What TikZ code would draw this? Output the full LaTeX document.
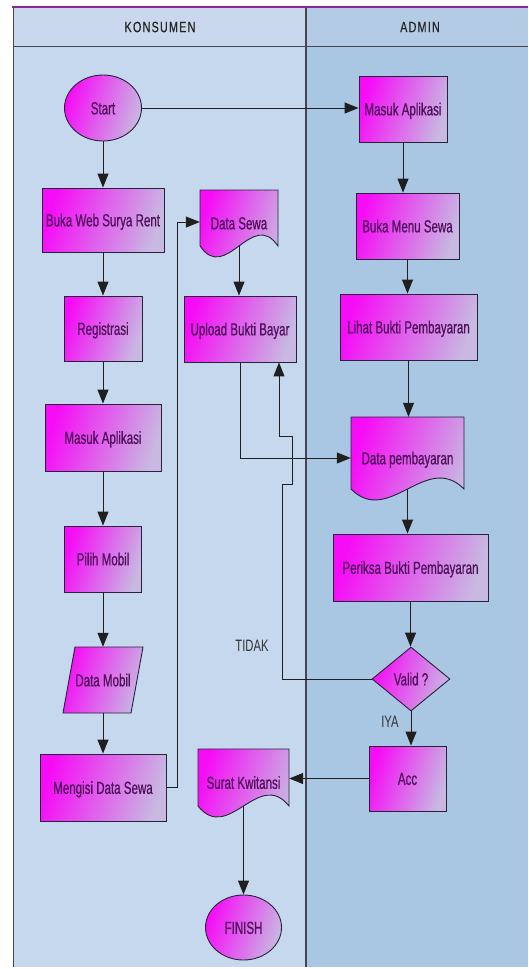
\documentclass[tikz,border=0pt]{standalone}
\usepackage{fontspec}
\usetikzlibrary{shapes.geometric,arrows.meta,calc}
\newfontfamily\narrowfont[FakeStretch=0.66,FakeBold=0.6]{Liberation Sans}
\newfontfamily\lblfont[FakeStretch=0.68]{Liberation Sans}
\newfontfamily\headfont[FakeStretch=0.72,LetterSpace=8,FakeBold=0.4]{Liberation Sans}
\definecolor{mag}{RGB}{246,12,246}
\definecolor{lav}{RGB}{200,184,226}
\definecolor{txt}{RGB}{80,16,92}
\definecolor{edge}{RGB}{38,34,60}
\definecolor{lanek}{RGB}{198,216,237}
\definecolor{lanea}{RGB}{169,199,227}
\definecolor{headk}{RGB}{202,216,238}
\definecolor{heada}{RGB}{180,203,230}
\definecolor{lanel}{RGB}{70,70,80}
\definecolor{topl}{RGB}{140,40,140}
\tikzset{
  fillshape/.style={draw=edge, line width=0.9pt, left color=mag, right color=lav, shading angle=72},
  box/.style={fillshape, rectangle, text=txt, font=\narrowfont\fontsize{17.5}{20}\selectfont,
    inner sep=0pt, text height=12.7pt, text depth=0pt, align=center},
  term/.style={box, ellipse},
  dia/.style={box, diamond},
  plaintext/.style={text=txt, font=\narrowfont\fontsize{17.5}{20}\selectfont,
    inner sep=0pt, text height=12.7pt, text depth=0pt},
  doctext/.style={plaintext, text height=22.7pt},
  headtext/.style={text=black!85, font=\headfont\fontsize{15}{17}\selectfont, inner sep=0pt},
  lbl/.style={text=black!80, font=\lblfont\fontsize{16.5}{18}\selectfont, inner sep=0pt},
  arr/.style={draw=black!88, line width=1pt, -{Triangle[length=14pt,width=11pt]}},
}
\newcommand\docnode[6]{%
  \path[fillshape] (#2,#3) -- (#4,#3) -- (#4,#5)
    .. controls ({#4-(#4-#2)/3},{#5-38}) and ({#2+(#4-#2)/3},{#5+38}) .. (#2,#5) -- cycle;
  \node[doctext, minimum width={#4-#2}, minimum height={#5-#3}] (#1) at ({(#2+#4)/2},{(#3+#5)/2}) {#6};
}
\begin{document}
\begin{tikzpicture}[x=1pt,y=-1pt]
\useasboundingbox (0,0) rectangle (528,969);
\fill[white] (0,0) rectangle (528,969);
\fill[lanek] (13,46) rectangle (306,967);
\fill[lanea] (306,46) rectangle (528,967);
\fill[headk] (13,7) rectangle (306,46);
\fill[heada] (306,7) rectangle (528,46);
\draw[lanel, line width=1pt] (13,46) -- (528,46);
\draw[lanel, line width=1pt] (13,7) -- (13,967);
\draw[lanel, line width=1.2pt] (306,7) -- (306,967);
\draw[topl, line width=2pt] (12,7) -- (528,7);
\node[headtext] (hk) at (160,27) {KONSUMEN};
\node[headtext] (ha) at (420,27) {ADMIN};

% Konsumen column
\node[term, minimum width=77, minimum height=66] (start) at (103,108) {Start};
\node[box, minimum width=122, minimum height=64] (bw) at (103,220) {Buka Web Surya Rent};
\node[box, minimum width=78, minimum height=65] (reg) at (103,328.5) {Registrasi};
\node[box, minimum width=116, minimum height=67] (mak) at (103,437.5) {Masuk Aplikasi};
\node[box, minimum width=77, minimum height=66] (pm) at (103,559) {Pilih Mobil};
\path[fillshape] (75,647) -- (143,647) -- (131,713) -- (63,713) -- cycle;
\node[plaintext, minimum width=70, minimum height=66] (dm) at (103,680) {Data Mobil};
\node[box, minimum width=126, minimum height=67] (mds) at (103,787.5) {Mengisi Data Sewa};

% middle column
\docnode{ds}{200}{190}{278}{246}{Data Sewa}
\node[box, minimum width=112, minimum height=66] (ub) at (240,329) {Upload Bukti Bayar};
\docnode{sk}{198}{749}{289}{806}{Surat Kwitansi}
\node[term, minimum width=76, minimum height=65] (fin) at (243.5,927.5) {FINISH};

% Admin column
\node[box, minimum width=88, minimum height=66] (maa) at (403,109) {Masuk Aplikasi};
\node[box, minimum width=103, minimum height=66] (bms) at (407.5,226) {Buka Menu Sewa};
\node[box, minimum width=137, minimum height=66] (lbp) at (408.5,327) {Lihat Bukti Pembayaran};
\docnode{dp}{351}{417}{464}{489}{Data pembayaran}
\node[box, minimum width=155, minimum height=67] (pbp) at (410.5,567.5) {Periksa Bukti Pembayaran};
\node[dia, minimum width=78, minimum height=64] (valid) at (411,679) {Valid ?};
\node[box, minimum width=77, minimum height=65] (acc) at (407.5,778.5) {Acc};

\node[lbl] (tidak) at (252,646) {TIDAK};
\node[lbl] (iya) at (390,722) {IYA};

% connectors
\draw[arr] (start.east) -- (start.east -| maa.west);
\draw[arr] (start.south) -- (start.south |- bw.north);
\draw[arr] (bw.south) -- (bw.south |- reg.north);
\draw[arr] (reg.south) -- (reg.south |- mak.north);
\draw[arr] (mak.south) -- (mak.south |- pm.north);
\draw[arr] (pm.south) -- (pm.south |- dm.north);
\draw[arr] (dm.south) -- (dm.south |- mds.north);
\coordinate (mA) at (177,222);
\draw[arr] (mds.east) -| (mA) -- (mA -| ds.west);
\draw[arr] (ds.south) -- (ds.south |- ub.north);
\coordinate (uA) at (240,458);
\draw[arr] (ub.south) -- (uA) -- (uA -| dp.west);

\draw[arr] (maa.south) -- (maa.south |- bms.north);
\draw[arr] (bms.south) -- (bms.south |- lbp.north);
\draw[arr] (lbp.south) -- (lbp.south |- dp.north);
\draw[arr] (dp.south) -- (dp.south |- pbp.north);
\draw[arr] (pbp.south) -- (pbp.south |- valid.north);
\draw[arr] (valid.south) -- (valid.south |- acc.north);
\coordinate (tA) at (282,484);
\coordinate (tB) at (292,436);
\coordinate (tC) at (279,436);
\draw[arr] (valid.west) -| (tA) -| (tB) -- (tC) -- (tC |- ub.south);
\draw[arr] (acc.west) -- (acc.west -| sk.east);
\draw[arr] (sk.south) -- (sk.south |- fin.north);
\end{tikzpicture}
\end{document}
